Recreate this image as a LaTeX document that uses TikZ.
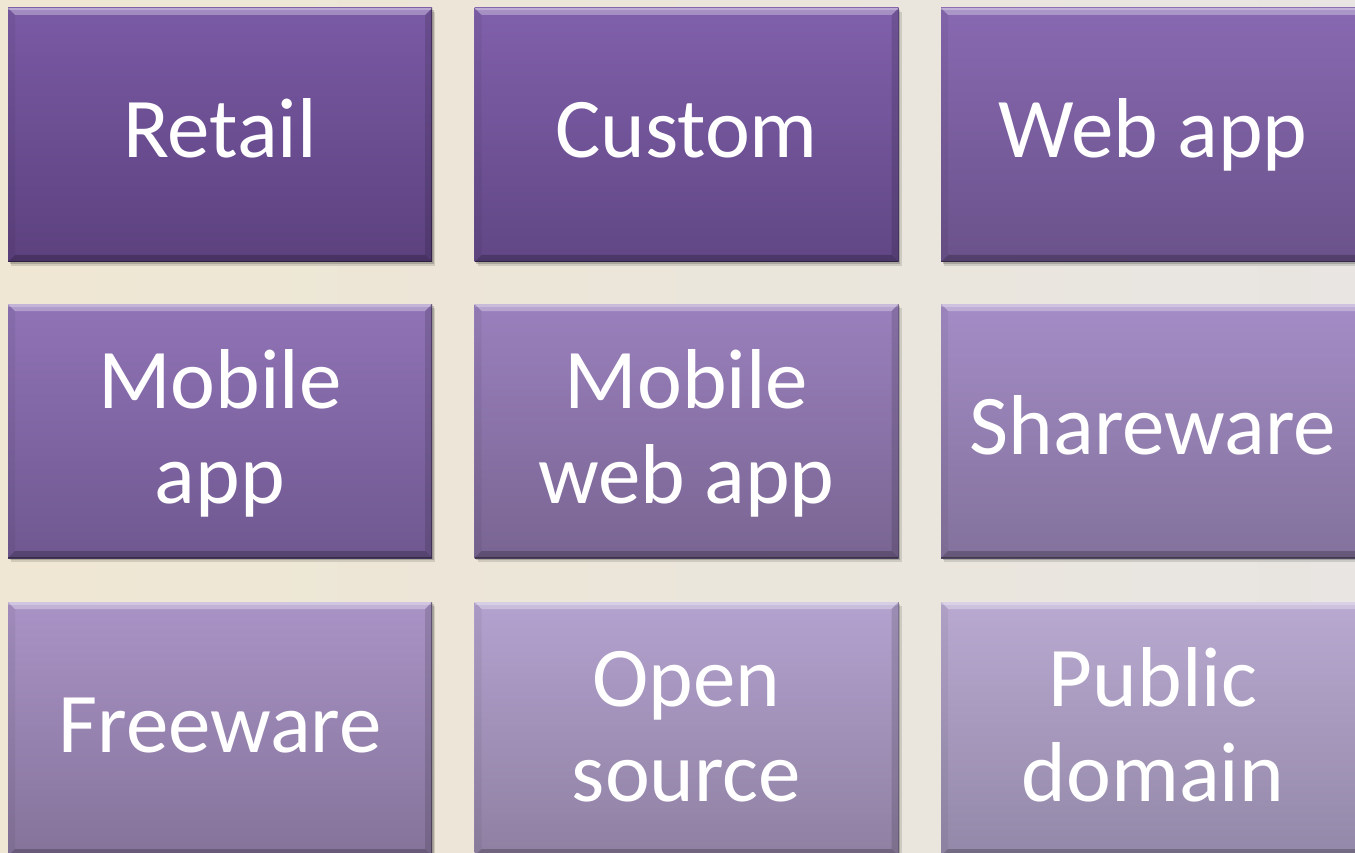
\documentclass[tikz,border=0pt]{standalone}
\usepackage{fontspec}
\setmainfont{Carlito}
\usetikzlibrary{shadows}
\definecolor{bgL}{HTML}{EFE7D3}
\definecolor{bgR}{HTML}{E8E5E2}
\definecolor{c1t}{HTML}{7A5AA5}\definecolor{c1b}{HTML}{5C417E}
\definecolor{c2t}{HTML}{8060AB}\definecolor{c2b}{HTML}{614785}
\definecolor{c3t}{HTML}{8869B2}\definecolor{c3b}{HTML}{6A528A}
\definecolor{c4t}{HTML}{9073B6}\definecolor{c4b}{HTML}{6F5890}
\definecolor{c5t}{HTML}{9A80BD}\definecolor{c5b}{HTML}{796592}
\definecolor{c6t}{HTML}{A48CC6}\definecolor{c6b}{HTML}{83729C}
\definecolor{c7t}{HTML}{A993C6}\definecolor{c7b}{HTML}{85739A}
\definecolor{c8t}{HTML}{B3A2CF}\definecolor{c8b}{HTML}{8F80A2}
\definecolor{c9t}{HTML}{B9A9D1}\definecolor{c9b}{HTML}{9388A8}
\begin{document}
\begin{tikzpicture}[x=1pt,y=-1pt,
  tile/.style 2 args={rectangle, minimum width=424pt, minimum height=254pt,
    inner sep=0pt, top color=#1, bottom color=#2,
    general shadow={shadow xshift=1.5pt, shadow yshift=-2pt, fill=black, opacity=.18},
    general shadow={shadow xshift=3pt, shadow yshift=-4pt, fill=black, opacity=.12},
    path picture={
      \fill[white, opacity=.30]
        (path picture bounding box.north west) -- (path picture bounding box.north east)
        -- ([xshift=-7pt,yshift=-7pt]path picture bounding box.north east)
        -- ([xshift=7pt,yshift=-7pt]path picture bounding box.north west) -- cycle;
      \fill[white, opacity=.25]
        (path picture bounding box.north west) rectangle ([yshift=-2.5pt]path picture bounding box.north east);
      \fill[black, opacity=.22]
        (path picture bounding box.south west) -- (path picture bounding box.south east)
        -- ([xshift=-7pt,yshift=7pt]path picture bounding box.south east)
        -- ([xshift=7pt,yshift=7pt]path picture bounding box.south west) -- cycle;
      \fill[black, opacity=.05]
        (path picture bounding box.north west) -- ([xshift=7pt,yshift=-7pt]path picture bounding box.north west)
        -- ([xshift=7pt,yshift=7pt]path picture bounding box.south west)
        -- (path picture bounding box.south west) -- cycle;
      \fill[black, opacity=.13]
        (path picture bounding box.north east) -- ([xshift=-7pt,yshift=-7pt]path picture bounding box.north east)
        -- ([xshift=-7pt,yshift=7pt]path picture bounding box.south east)
        -- (path picture bounding box.south east) -- cycle;
      \draw[black, opacity=.35, line width=1.2pt]
        (path picture bounding box.north east) -- (path picture bounding box.south east)
        -- (path picture bounding box.south west);
    }},
  lbl/.style={anchor=base, text=white, font=\fontsize{85}{95}\selectfont, align=center, inner sep=0pt}]
\useasboundingbox (0,0) rectangle (1355,853);
\clip (0,0) rectangle (1355,853);
\fill[left color=bgL, right color=bgR] (0,0) rectangle (1355,853);

\node[tile={c1t}{c1b}] (retail) at (220,135) {};
\node[tile={c2t}{c2b}] (custom) at (686.5,135) {};
\node[tile={c3t}{c3b}] (webapp) at (1153,135) {};
\node[tile={c4t}{c4b}] (mobileapp) at (220,431) {};
\node[tile={c5t}{c5b}] (mobileweb) at (686.5,431) {};
\node[tile={c6t}{c6b}] (shareware) at (1153,431) {};
\node[tile={c7t}{c7b}] (freeware) at (220,729) {};
\node[tile={c8t}{c8b}] (opensource) at (686.5,729) {};
\node[tile={c9t}{c9b}] (publicdomain) at (1153,729) {};

\node[lbl] (t-retail) at ([yshift=-23pt]retail.center) {Retail};
\node[lbl] (t-custom) at ([yshift=-23pt]custom.center) {Custom};
\node[lbl] (t-webapp) at ([yshift=-23pt]webapp.center) {Web app};
\node[lbl] (t-mobileapp) at ([yshift=-72pt]mobileapp.center) {Mobile\\app};
\node[lbl] (t-mobileweb) at ([yshift=-72pt]mobileweb.center) {Mobile\\web app};
\node[lbl] (t-shareware) at ([yshift=-23pt]shareware.center) {Shareware};
\node[lbl] (t-freeware) at ([yshift=-23pt]freeware.center) {Freeware};
\node[lbl] (t-opensource) at ([yshift=-72pt]opensource.center) {Open\\source};
\node[lbl] (t-publicdomain) at ([yshift=-72pt]publicdomain.center) {Public\\domain};
\end{tikzpicture}
\end{document}
